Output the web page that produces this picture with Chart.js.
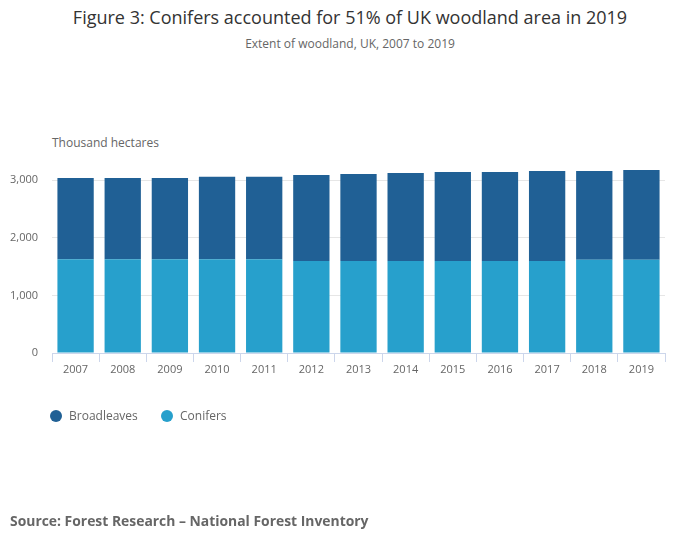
<!DOCTYPE html>
<html>
<head>
<meta charset="utf-8">
<script src="https://cdn.jsdelivr.net/npm/chart.js@4"></script>
<style>
  html, body { margin:0; padding:0; background:#fff; }
  body { width:700px; height:549px; position:relative; overflow:hidden; font-family:"Open Sans", sans-serif; }
  #title { position:absolute; top:5px; left:0; width:700px; text-align:center; font-size:18px; color:#333; }
  #subtitle { position:absolute; top:35px; left:0; width:700px; text-align:center; font-size:12px; color:#666; }
  #ytitle { position:absolute; top:134px; left:52px; font-size:12px; color:#666; }
  #source { position:absolute; top:511px; left:10px; font-size:13.9px; font-weight:bold; color:#666; }
  #legend { position:absolute; top:406px; left:50px; font-size:12px; color:#666; }
  .item { position:absolute; top:0; white-space:nowrap; line-height:20px; }
  .dot { display:inline-block; width:12px; height:12px; border-radius:50%; vertical-align:-2px; margin-right:7px; }
  #wrap { position:absolute; left:0; top:0; width:700px; height:549px; }
</style>
</head>
<body>
<div id="title">Figure 3: Conifers accounted for 51% of UK woodland area in 2019</div>
<div id="subtitle">Extent of woodland, UK, 2007 to 2019</div>
<div id="ytitle">Thousand hectares</div>
<div id="wrap"><canvas id="c" width="700" height="549"></canvas></div>
<div id="legend">
  <div class="item" style="left:0px"><span class="dot" style="background:#206095"></span>Broadleaves</div>
  <div class="item" style="left:111px"><span class="dot" style="background:#27a0cc"></span>Conifers</div>
</div>
<div id="source">Source: Forest Research – National Forest Inventory</div>
<script>
const years = ["2007","2008","2009","2010","2011","2012","2013","2014","2015","2016","2017","2018","2019"];
const conifers = [1630,1630,1630,1630,1630,1600,1600,1600,1600,1600,1600,1620,1620];
const broadleaves = [1410,1410,1410,1430,1430,1490,1510,1525,1545,1545,1560,1540,1560];
const yTicks = [0,1000,2000,3000];

new Chart(document.getElementById('c'), {
  type: 'bar',
  data: {
    labels: years,
    datasets: [
      { label: 'Conifers', data: conifers, backgroundColor: '#27a0cc', order: 1 },
      { label: 'Broadleaves', data: broadleaves, backgroundColor: '#206095', order: 1 }
    ]
  },
  options: {
    responsive: false,
    animation: false,
    devicePixelRatio: 1,
    layout: { padding: { left: 0, right: 35, top: 163, bottom: 166 } },
    plugins: { legend: { display: false }, tooltip: { enabled: false }, title: { display: false } },
    datasets: { bar: { barPercentage: 1, categoryPercentage: 0.77 } },
    scales: {
      x: {
        stacked: true,
        grid: { offset: true, drawOnChartArea: false, drawTicks: true, tickLength: 9, color: '#ccd6eb' },
        border: { display: true, color: '#ccd6eb', width: 1 },
        ticks: { color: '#666', font: { family: 'Open Sans', size: 11 }, padding: 1, maxRotation: 0 },
        afterFit: s => { s.height = 30; }
      },
      y: {
        stacked: true,
        min: 0,
        max: 3300,
        afterBuildTicks: s => { s.ticks = yTicks.map(v => ({ value: v })); },
        grid: { color: '#e6e6e6', drawTicks: false },
        border: { display: false },
        ticks: {
          color: '#666', font: { family: 'Open Sans', size: 11 }, padding: 14,
          callback: v => v.toLocaleString('en-GB')
        },
        afterFit: s => { s.width = 52; }
      }
    }
  }
});
</script>
</body>
</html>
